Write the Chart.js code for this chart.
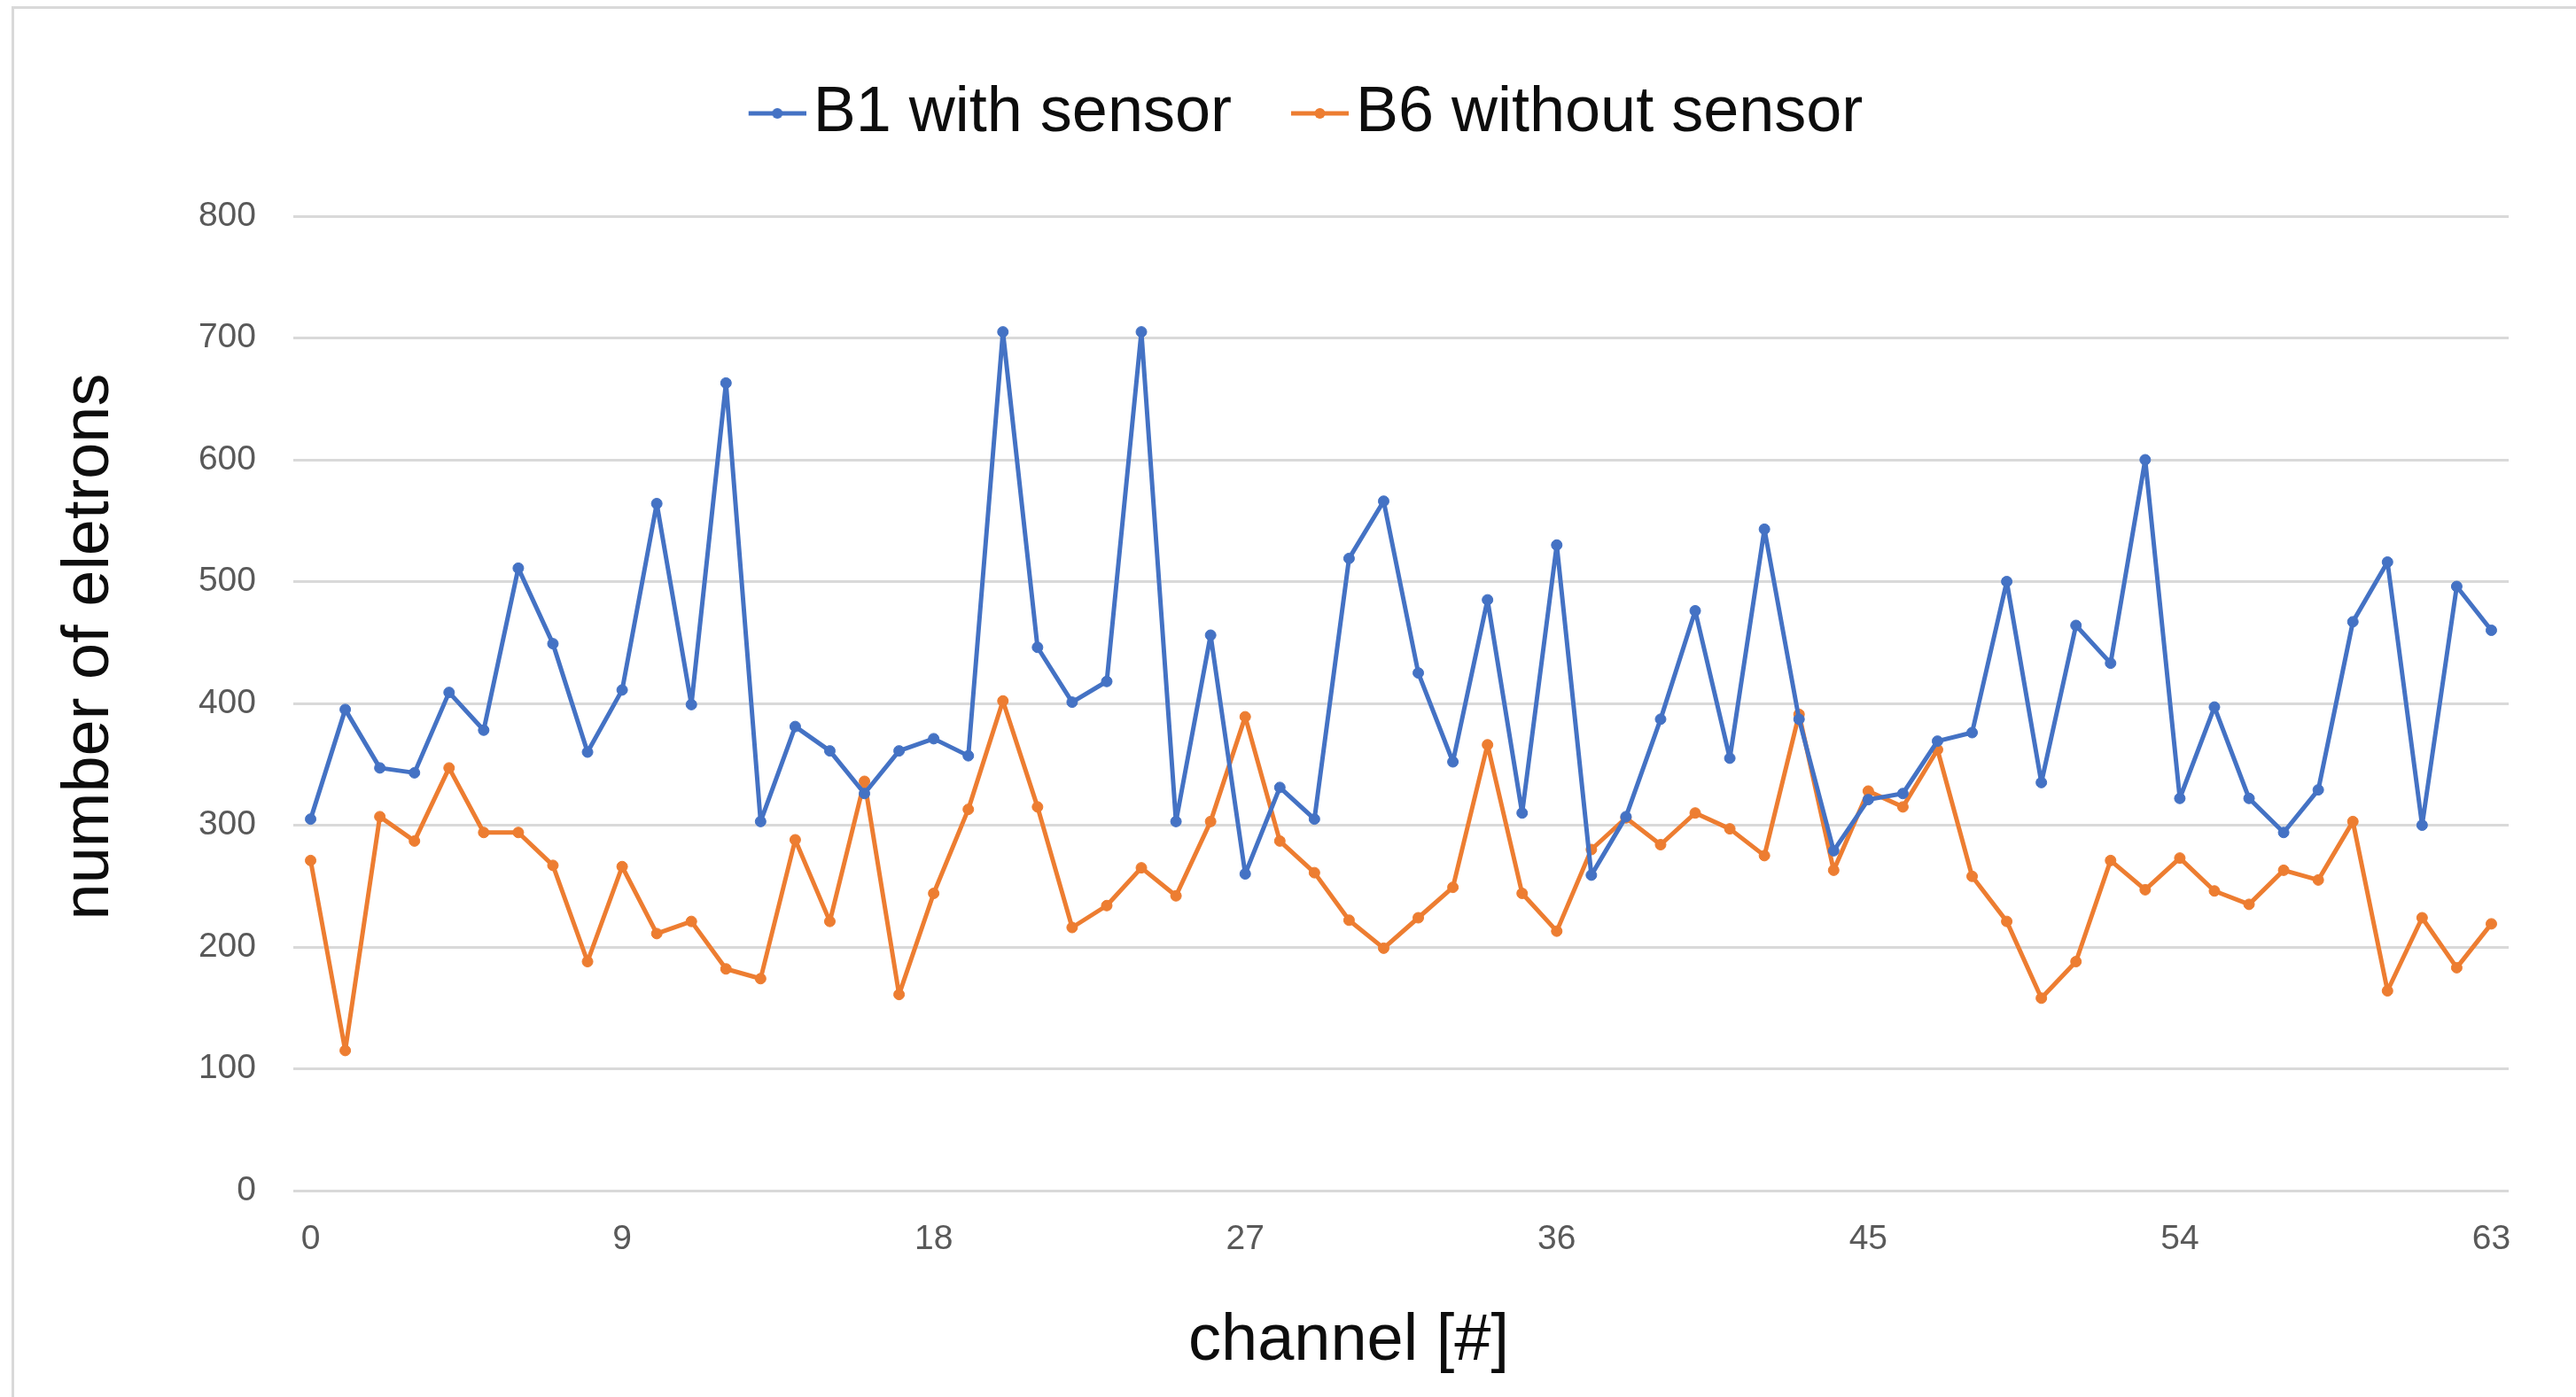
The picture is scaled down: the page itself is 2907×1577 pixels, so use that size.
<!DOCTYPE html>
<html>
<head>
<meta charset="utf-8">
<script src="https://cdn.jsdelivr.net/npm/chart.js@4.4.1/dist/chart.umd.min.js"></script>
<style>
  html, body { margin:0; padding:0; background:#fff; }
  #wrap { width:2907px; height:1577px; position:relative; }
</style>
</head>
<body>
<div id="wrap"><canvas id="chart"></canvas></div>
<script>
"use strict";
const channels = Array.from({ length: 64 }, (_, i) => String(i));
const tickChannels = ['0', '9', '18', '27', '36', '45', '54', '63'];

const withSensor = [
  305, 395, 347, 343, 409, 378, 511, 449, 360, 411, 564, 399, 663, 303, 381, 361,
  326, 361, 371, 357, 705, 446, 401, 418, 705, 303, 456, 260, 331, 305, 519, 566,
  425, 352, 485, 310, 530, 259, 307, 387, 476, 355, 543, 387, 279, 321, 326, 369,
  376, 500, 335, 464, 433, 600, 322, 397, 322, 294, 329, 467, 516, 300, 496, 460
];
const withoutSensor = [
  271, 115, 307, 287, 347, 294, 294, 267, 188, 266, 211, 221, 182, 174, 288, 221,
  336, 161, 244, 313, 402, 315, 216, 234, 265, 242, 303, 389, 287, 261, 222, 199,
  224, 249, 366, 244, 213, 280, 306, 284, 310, 297, 275, 391, 263, 328, 315, 362,
  258, 221, 158, 188, 271, 247, 273, 246, 235, 263, 255, 303, 164, 224, 183, 219
];

const BLUE = '#4472C4', ORANGE = '#ED7D31';
const FONT = "'Liberation Sans', Arial, sans-serif";

// legend marker: short line with a dot, shifted so the gap to the text stays small
function legendMark(color) {
  const c = document.createElement('canvas');
  c.width = 93; c.height = 20;
  const g = c.getContext('2d');
  g.strokeStyle = color; g.lineWidth = 5;
  g.beginPath(); g.moveTo(28, 10); g.lineTo(93, 10); g.stroke();
  g.fillStyle = color;
  g.beginPath(); g.arc(60.5, 10, 6, 0, Math.PI * 2); g.fill();
  return c;
}
const marks = [legendMark(BLUE), legendMark(ORANGE)];

const frame = {
  id: 'frame',
  beforeDraw(chart) {
    const { ctx, width, height } = chart;
    ctx.save();
    ctx.fillStyle = '#fff';
    ctx.fillRect(0, 0, width, height);
    ctx.strokeStyle = '#D9D9D9';
    ctx.lineWidth = 3;
    ctx.beginPath();
    ctx.moveTo(14.5, height); ctx.lineTo(14.5, 8.5); ctx.lineTo(width, 8.5);
    ctx.stroke();
    ctx.restore();
  },
  afterDraw(chart) {
    const { ctx } = chart;
    ctx.save();
    ctx.fillStyle = '#0d0d0d';
    ctx.font = `74px ${FONT}`;
    ctx.textAlign = 'center';
    ctx.textBaseline = 'alphabetic';
    ctx.fillText('channel [#]', 1522, 1535);
    ctx.translate(122, 730);
    ctx.rotate(-Math.PI / 2);
    ctx.fillText('number of eletrons', 0, 0);
    ctx.restore();
  }
};

function series(label, data, color) {
  return {
    label, data,
    borderColor: color,
    backgroundColor: color,
    borderWidth: 5,
    borderJoinStyle: 'round',
    borderCapStyle: 'round',
    pointRadius: 6,
    pointBorderWidth: 1,
    pointBackgroundColor: color,
    pointBorderColor: color,
    tension: 0,
    xAxisID: 'x'
  };
}

new Chart(document.getElementById('chart'), {
  type: 'line',
  data: {
    labels: channels,
    datasets: [
      series('B1 with sensor', withSensor, BLUE),
      series('B6 without sensor', withoutSensor, ORANGE)
    ]
  },
  options: {
    responsive: true,
    maintainAspectRatio: false,
    animation: false,
    layout: { padding: { left: 116, right: 76, top: 25, bottom: 0 } },
    plugins: {
      tooltip: { enabled: false },
      legend: {
        position: 'top',
        labels: {
          usePointStyle: true,
          pointStyleWidth: 37,
          padding: 67,
          color: '#0d0d0d',
          font: { family: FONT, size: 72 },
          generateLabels(chart) {
            const items = Chart.defaults.plugins.legend.labels.generateLabels(chart);
            items.forEach((it, i) => { it.pointStyle = marks[i]; });
            return items;
          }
        }
      }
    },
    scales: {
      x: {
        type: 'category',
        offset: true,
        grid: { display: false, drawTicks: false },
        border: { display: false },
        ticks: {
          autoSkip: false,
          maxRotation: 0,
          padding: 32,
          color: '#595959',
          font: { family: FONT, size: 39 },
          callback(v) {
            const lbl = this.getLabelForValue(v);
            return tickChannels.includes(lbl) ? lbl : '';
          }
        },
        afterFit(scale) { scale.height = 233; }
      },
      // empty band between legend and plot
      gap: {
        type: 'category',
        position: 'top',
        grid: { display: false, drawTicks: false },
        border: { display: false },
        ticks: { display: false },
        afterFit(scale) { scale.height = 70; }
      },
      y: {
        min: 0,
        max: 800,
        grid: { color: '#D9D9D9', lineWidth: 3, drawTicks: false },
        border: { display: false },
        ticks: {
          stepSize: 100,
          padding: 42,
          color: '#595959',
          font: { family: FONT, size: 39 }
        },
        afterFit(scale) { scale.width = 215; }
      }
    }
  },
  plugins: [frame]
});
</script>
</body>
</html>
